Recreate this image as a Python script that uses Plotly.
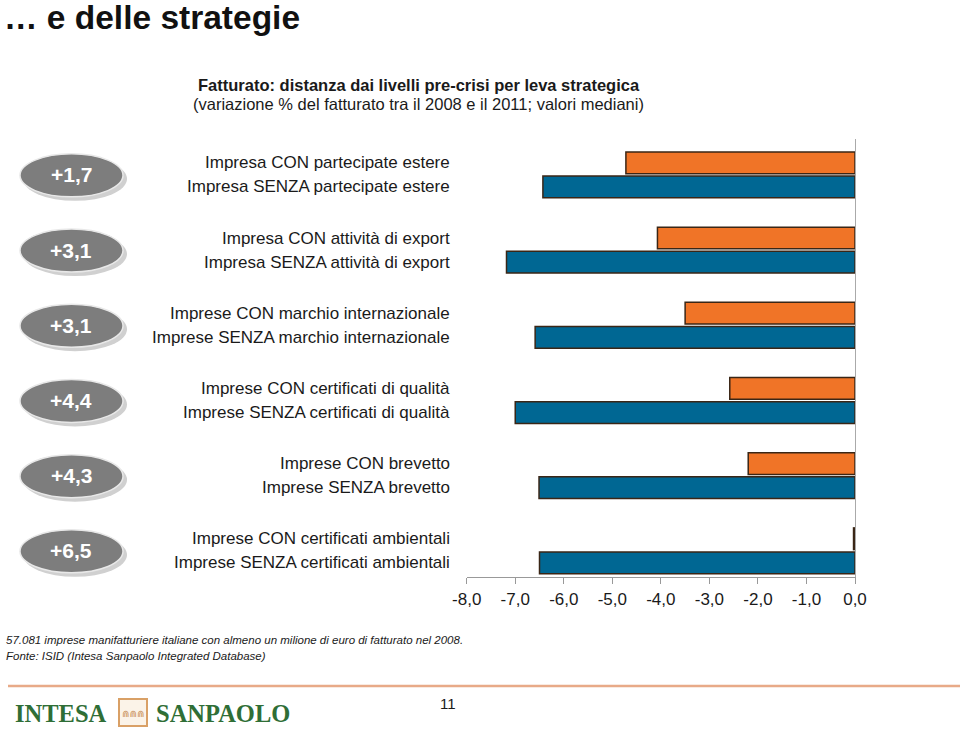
import plotly.graph_objects as go

# ---------------- data ----------------
categories = ["partecipate estere", "attività di export", "marchio internazionale",
              "certificati di qualità", "brevetto", "certificati ambientali"]
con_labels = ["Impresa CON partecipate estere", "Impresa CON attività di export",
              "Imprese CON marchio internazionale", "Imprese CON certificati di qualità",
              "Imprese CON brevetto", "Imprese CON certificati ambientali"]
senza_labels = ["Impresa SENZA partecipate estere", "Impresa SENZA attività di export",
                "Imprese SENZA marchio internazionale", "Imprese SENZA certificati di qualità",
                "Imprese SENZA brevetto", "Imprese SENZA certificati ambientali"]
con_values = [-4.72, -4.07, -3.50, -2.58, -2.20, -0.03]
senza_values = [-6.43, -7.18, -6.59, -7.00, -6.51, -6.50]
gap_labels = ["+1,7", "+3,1", "+3,1", "+4,4", "+4,3", "+6,5"]
x_ticks = [-8, -7, -6, -5, -4, -3, -2, -1, 0]
x_tick_labels = ["-8,0", "-7,0", "-6,0", "-5,0", "-4,0", "-3,0", "-2,0", "-1,0", "0,0"]

W, H = 960, 731
def px(x):
    return x / W
def py(y):
    return 1 - y / H

FONT = "Liberation Sans, Arial, sans-serif"
ORANGE = "#F07427"
BLUE = "#006793"
EDGE = "#3a2616"
LOGO_GREEN = "#2F6E36"

fig = go.Figure()
fig.add_trace(go.Bar(y=categories, x=con_values, orientation="h", name="CON",
                     marker=dict(color=ORANGE, line=dict(color=EDGE, width=1.5)),
                     hoverinfo="x"))
fig.add_trace(go.Bar(y=categories, x=senza_values, orientation="h", name="SENZA",
                     marker=dict(color=BLUE, line=dict(color=EDGE, width=1.5)),
                     hoverinfo="x"))

annotations = []
shapes = []

# category labels (two lines per group)
for cat, lc, ls in zip(categories, con_labels, senza_labels):
    annotations.append(dict(x=px(452), xref="paper", y=cat, yref="y", text=lc,
                            xanchor="right", yanchor="middle", yshift=12, showarrow=False,
                            font=dict(family=FONT, size=17, color="#1a1a1a")))
    annotations.append(dict(x=px(452), xref="paper", y=cat, yref="y", text=ls,
                            xanchor="right", yanchor="middle", yshift=-12, showarrow=False,
                            font=dict(family=FONT, size=17, color="#1a1a1a")))

# gray ellipses with the gaps
for i, (cat, g) in enumerate(zip(categories, gap_labels)):
    shapes.append(dict(type="circle", xref="paper", yref="y", ysizemode="pixel",
                       yanchor=i, x0=px(23), x1=px(127), y0=-26, y1=18,
                       fillcolor="#d0d0d0", line=dict(width=0), layer="above"))
    shapes.append(dict(type="circle", xref="paper", yref="y", ysizemode="pixel",
                       yanchor=i, x0=px(20), x1=px(123), y0=-22, y1=21,
                       fillcolor="#7d7d7d", line=dict(color="#e8e8e8", width=1.5),
                       layer="above"))
    annotations.append(dict(x=px(71), xref="paper", y=cat, yref="y", text=g,
                            xanchor="center", yanchor="middle", showarrow=False,
                            font=dict(family=FONT, size=21, color="white", weight="bold")))

# titles
annotations.append(dict(x=0, y=py(18), xref="paper", yref="paper", text="… e delle strategie",
                        xanchor="left", yanchor="middle", showarrow=False, xshift=2,
                        font=dict(family=FONT, size=33.5, color="#111111", weight="bold")))
annotations.append(dict(x=px(419), y=py(85), xref="paper", yref="paper",
                        text="Fatturato: distanza dai livelli pre-crisi per leva strategica",
                        xanchor="center", yanchor="middle", showarrow=False,
                        font=dict(family=FONT, size=16.5, color="#1a1a1a", weight="bold")))
annotations.append(dict(x=px(418), y=py(104), xref="paper", yref="paper",
                        text="(variazione % del fatturato tra il 2008 e il 2011; valori mediani)",
                        xanchor="center", yanchor="middle", showarrow=False,
                        font=dict(family=FONT, size=16.5, color="#1a1a1a")))

# footer notes
annotations.append(dict(x=px(4), y=py(640), xref="paper", yref="paper",
                        text="57.081 imprese manifatturiere italiane con almeno un milione di euro di fatturato nel 2008.",
                        xanchor="left", yanchor="middle", showarrow=False,
                        font=dict(family=FONT, size=11.5, color="#1a1a1a", style="italic")))
annotations.append(dict(x=px(4), y=py(656), xref="paper", yref="paper",
                        text="Fonte: ISID (Intesa Sanpaolo Integrated Database)",
                        xanchor="left", yanchor="middle", showarrow=False,
                        font=dict(family=FONT, size=11.5, color="#1a1a1a", style="italic")))

# separator line
shapes.append(dict(type="line", xref="paper", yref="paper", x0=px(8), x1=1,
                   y0=py(686), y1=py(686), line=dict(color="#E8AA88", width=2.5)))

# logo
annotations.append(dict(x=px(13), y=py(713), xref="paper", yref="paper", text="INTESA",
                        xanchor="left", yanchor="middle", showarrow=False,
                        font=dict(family="Liberation Serif, serif", size=24.5, color=LOGO_GREEN,
                                  weight="bold")))
shapes.append(dict(type="rect", xref="paper", yref="paper", x0=px(119), x1=px(147),
                   y0=py(726), y1=py(699), line=dict(color="#D9A066", width=2),
                   fillcolor="#FBF3E8"))
annotations.append(dict(x=px(133), y=py(714), xref="paper", yref="paper", text="⋒⋒⋒",
                        xanchor="center", yanchor="middle", showarrow=False,
                        font=dict(family="DejaVu Sans", size=9, color="#C9905A")))
annotations.append(dict(x=px(154), y=py(713), xref="paper", yref="paper", text="SANPAOLO",
                        xanchor="left", yanchor="middle", showarrow=False,
                        font=dict(family="Liberation Serif, serif", size=24.5, color=LOGO_GREEN,
                                  weight="bold")))
annotations.append(dict(x=px(448), y=py(703), xref="paper", yref="paper", text="11",
                        xanchor="center", yanchor="middle", showarrow=False,
                        font=dict(family=FONT, size=15, color="#1a1a1a")))

fig.update_layout(
    template="none",
    width=W, height=H,
    margin=dict(l=0, r=0, t=0, b=0, pad=0, autoexpand=False),
    paper_bgcolor="white", plot_bgcolor="white",
    showlegend=False,
    barmode="group", bargap=0.358, bargroupgap=0.1,
    separators=",.",
    xaxis=dict(domain=[px(466.7), px(855)], range=[-8, 0], autorange=False,
               automargin=False,
               tickvals=x_ticks, ticktext=x_tick_labels,
               ticks="outside", ticklen=6, tickcolor="#999999",
               showline=True, linecolor="#999999", linewidth=1.2,
               showgrid=False, zeroline=False,
               tickfont=dict(family=FONT, size=17, color="#1a1a1a")),
    yaxis=dict(domain=[py(577), py(139)], type="category",
               categoryorder="array", categoryarray=categories,
               range=[5.348, -0.477], autorange=False, automargin=False,
               side="right", showticklabels=False, showgrid=False, zeroline=False,
               showline=True, linecolor="#aaaaaa", linewidth=1.2, ticks=""),
    annotations=annotations,
    shapes=shapes,
)

fig.write_html("out.html")
